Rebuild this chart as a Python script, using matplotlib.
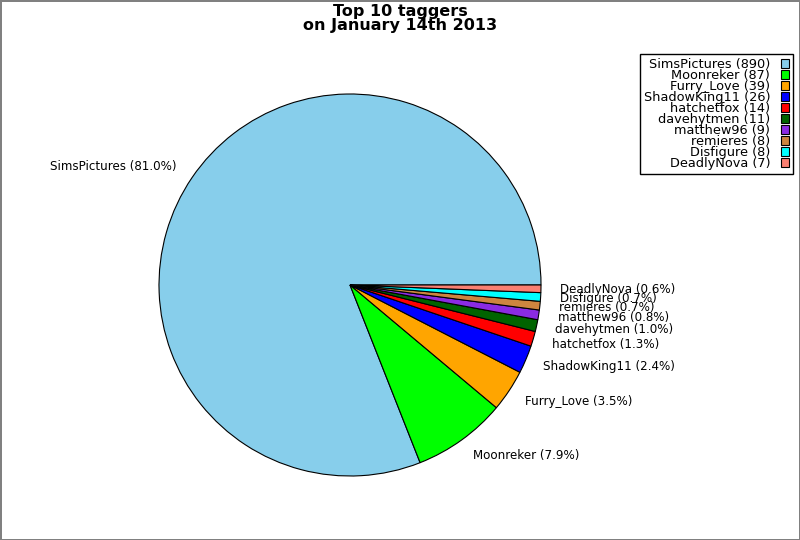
import matplotlib
matplotlib.use("Agg")
import matplotlib.pyplot as plt

names = ["SimsPictures", "Moonreker", "Furry_Love", "ShadowKing11", "hatchetfox",
         "davehytmen", "matthew96", "remieres", "Disfigure", "DeadlyNova"]
counts = [890, 87, 39, 26, 14, 11, 9, 8, 8, 7]
colors = ["skyblue", "lime", "orange", "blue", "red",
          "darkgreen", "blueviolet", "peru", "cyan", "salmon"]

total = sum(counts)
pie_labels = ["%s (%.1f%%)" % (n, 100.0 * c / total) for n, c in zip(names, counts)]
legend_labels = ["%s (%d)" % (n, c) for n, c in zip(names, counts)]

fig = plt.figure(figsize=(8, 5.4), dpi=100)
fig.patch.set_edgecolor("grey")
fig.patch.set_linewidth(2)

# pie centre ~ (350, 285) px, radius ~191 px
ax = fig.add_axes([159 / 800, (540 - 285 - 191) / 540, 382 / 800, 382 / 540])
wedges, texts = ax.pie(counts, labels=pie_labels, colors=colors, startangle=0,
                       labeldistance=1.1,
                       wedgeprops=dict(edgecolor="black", linewidth=0.8),
                       textprops=dict(fontsize=8.6))
ax.set_xlim(-1, 1)
ax.set_ylim(-1, 1)
ax.set_aspect("equal")

fig.suptitle("Top 10 taggers\non January 14th 2013", fontsize=11.5,
             fontweight="bold", y=0.993, linespacing=0.92)

leg = fig.legend(wedges, legend_labels, loc="upper right",
                 bbox_to_anchor=(0.991, 0.9), borderaxespad=0, fontsize=9.3,
                 markerfirst=False, labelspacing=-0.155, handlelength=0.65,
                 handleheight=0.65, handletextpad=0.8, borderpad=0.3,
                 fancybox=False, framealpha=1, edgecolor="black")
for t in leg.get_texts():
    t.set_ha("right")

fig.savefig("out.png", dpi=100)
